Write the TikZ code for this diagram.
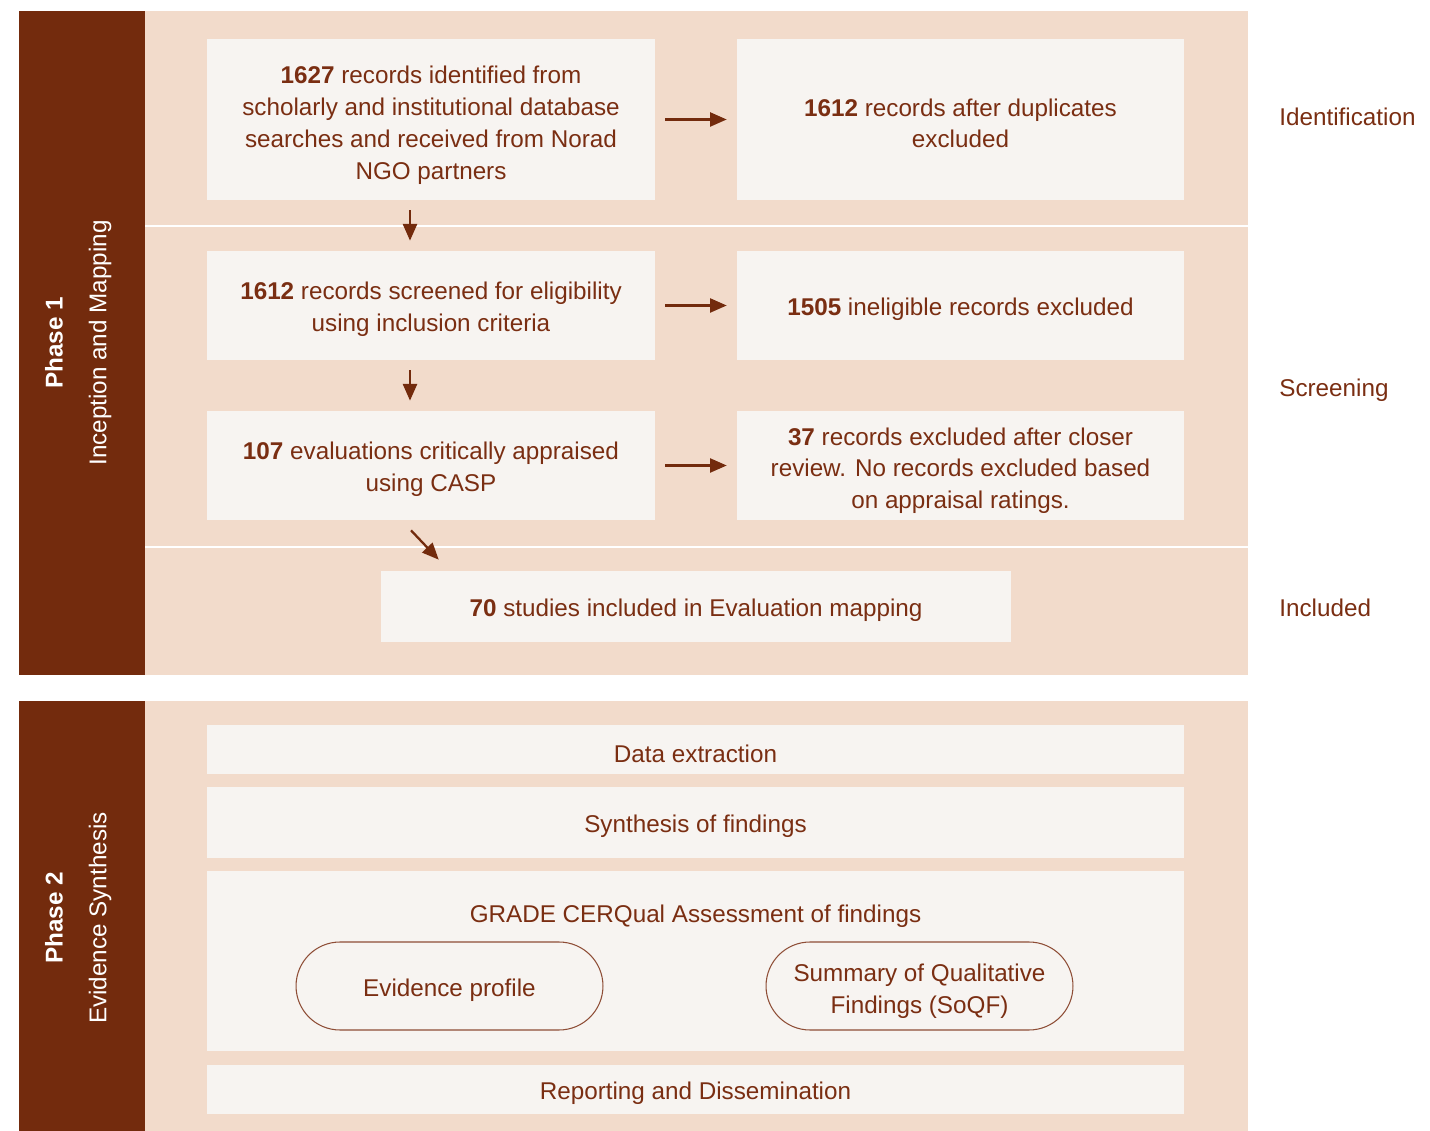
\documentclass[tikz,border=0pt]{standalone}
\usepackage{fontspec}
\setmainfont{Liberation Sans}
\usetikzlibrary{arrows.meta}
\definecolor{barbrown}{HTML}{732B0D}
\definecolor{bgpeach}{HTML}{F2DBCB}
\definecolor{boxfill}{HTML}{F7F4F1}
\definecolor{txtbrown}{HTML}{7A2E12}
% invisible strut that lowers the first line of a box text
\newcommand{\firstln}{\rule{0pt}{14.4pt}}
\tikzset{
  box/.style={fill=boxfill, text=txtbrown, align=center, inner sep=0pt,
    font=\fontsize{13.8}{18.1}\selectfont,
    execute at begin node={\rule{0pt}{14.6pt}}},
  pill/.style={box, draw=txtbrown!85, line width=0.6pt, rounded corners=0.88cm,
    minimum width=6.14cm, minimum height=1.76cm},
  arr/.style={draw=barbrown, line width=1.3pt,
    -{Triangle[length=9.5pt,width=8pt]}, shorten <=0.2cm, shorten >=0.2cm},
  sidelab/.style={text=txtbrown, anchor=west, inner sep=0pt,
    font=\fontsize{13.8}{18.1}\selectfont},
  phaselab/.style={text=white, rotate=90, font=\fontsize{13.8}{18.1}\selectfont}
}
\begin{document}
\begin{tikzpicture}[x=0.02cm, y=-0.02cm]
  \useasboundingbox (0,0) rectangle (1430,1131);
  % Phase 1 background
  \fill[barbrown] (19,11) rectangle (145,675);
  \fill[bgpeach] (145,11) rectangle (1248,675);
  \draw[white, line width=1.2pt] (145,226) -- (1248,226);
  \draw[white, line width=1.2pt] (145,547) -- (1248,547);
  % Phase 2 background
  \fill[barbrown] (19,701) rectangle (145,1131);
  \fill[bgpeach] (145,701) rectangle (1248,1131);

  \node[phaselab, font=\fontsize{13.8}{18.1}\selectfont\bfseries] (ph1) at (54,343) {Phase 1};
  \node[phaselab] (ph1name) at (100,343) {Inception and Mapping};
  \node[phaselab, font=\fontsize{13.8}{18.1}\selectfont\bfseries] (ph2) at (54,918) {Phase 2};
  \node[phaselab] (ph2name) at (100,918) {Evidence Synthesis};

  % Phase 1 boxes
  \node[box, minimum width=8.96cm, minimum height=3.22cm] (ident) at (431,119.5)
    {\rule{0pt}{16.6pt}\textbf{1627} records identified from\\scholarly and institutional database\\searches and received from Norad\\NGO partners};
  \node[box, minimum width=8.94cm, minimum height=3.22cm] (dedup) at (960.5,119.5)
    {\firstln\textbf{1612} records after duplicates\\excluded};
  \node[box, minimum width=8.96cm, minimum height=2.18cm] (screen) at (431,305.5)
    {\firstln\textbf{1612} records screened for eligibility\\using inclusion criteria};
  \node[box, minimum width=8.94cm, minimum height=2.18cm] (inelig) at (960.5,305.5)
    {\textbf{1505} ineligible records excluded};
  \node[box, minimum width=8.96cm, minimum height=2.18cm] (apprais) at (431,465.5)
    {\firstln\textbf{107} evaluations critically appraised\\using CASP};
  \node[box, minimum width=8.94cm, minimum height=2.18cm] (excl) at (960.5,465.5)
    {\rule{0pt}{15.8pt}\textbf{37} records excluded after closer\\review. No records excluded based\\on appraisal ratings.};
  \node[box, minimum width=12.6cm, minimum height=1.42cm] (incl) at (696,606.5)
    {\textbf{70} studies included in Evaluation mapping};

  \draw[arr] (ident.east) -- (dedup.west);
  \draw[arr] (screen.east) -- (inelig.west);
  \draw[arr] (apprais.east) -- (excl.west);
  \draw[arr] ([xshift=-0.42cm]ident.south) -- ([xshift=-0.42cm]screen.north);
  \draw[arr] ([xshift=-0.42cm]screen.south) -- ([xshift=-0.42cm]apprais.north);
  \draw[arr, shorten <=0pt, shorten >=0pt] ([shift={(-20,10)}]apprais.south) -- ([shift={(58,-11)}]incl.north west);

  \node[sidelab] (idlab) at (1279,117) {Identification};
  \node[sidelab] (scrlab) at (1279,390) {Screening};
  \node[sidelab] (inclab) at (1279,608) {Included};

  % Phase 2 boxes
  \node[box, minimum width=19.54cm, minimum height=0.98cm] (extract) at (695.5,749.5) {Data extraction};
  \node[box, minimum width=19.54cm, minimum height=1.42cm] (synth) at (695.5,822.5) {Synthesis of findings};
  \node[box, minimum width=19.54cm, minimum height=3.6cm] (grade) at (695.5,961) {};
  \node[box, fill=none] (gradetitle) at (695.5,912) {GRADE CERQual Assessment of findings};
  \node[pill] (evprof) at (449.5,986) {Evidence profile};
  \node[pill] (soqf) at (919.5,986) {\rule{0pt}{16.4pt}Summary of Qualitative\\Findings (SoQF)};
  \node[box, minimum width=19.54cm, minimum height=0.98cm] (report) at (695.5,1089.5) {Reporting and Dissemination};
\end{tikzpicture}
\end{document}
